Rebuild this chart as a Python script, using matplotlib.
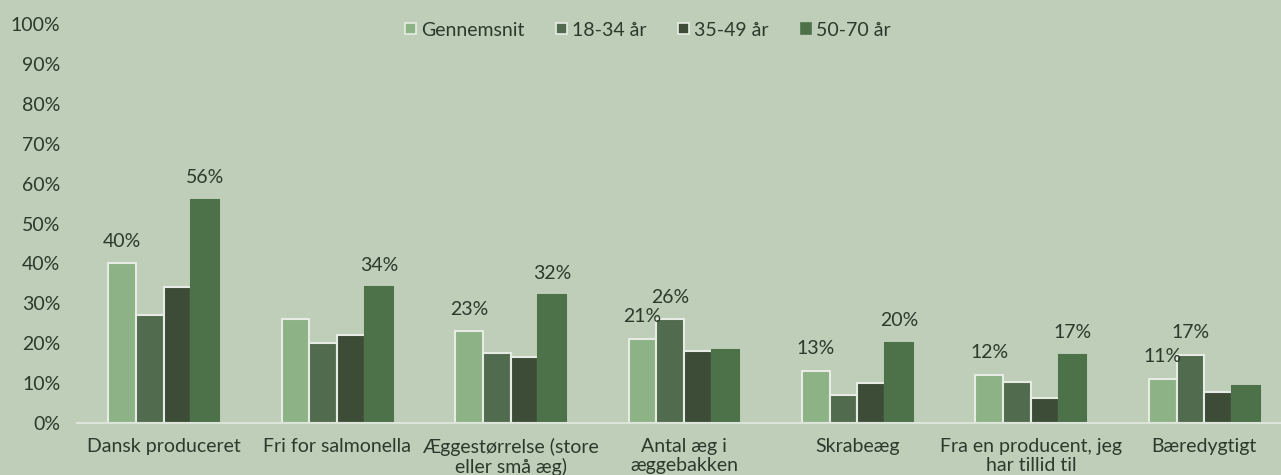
import matplotlib
matplotlib.use("Agg")
import matplotlib.pyplot as plt
import numpy as np
from matplotlib.patches import Patch

categories = ["Dansk produceret", "Fri for salmonella", "Æggestørrelse (store\neller små æg)",
              "Antal æg i\næggebakken", "Skrabeæg", "Fra en producent, jeg\nhar tillid til", "Bæredygtigt"]
series_names = ["Gennemsnit", "18-34 år", "35-49 år", "50-70 år"]
gennemsnit = [40, 26, 23, 21, 13, 12, 11]
aar_18_34 = [27, 20, 17.5, 26, 7, 10.2, 17]
aar_35_49 = [34, 22, 16.5, 18, 10, 6.3, 7.8]
aar_50_70 = [56, 34, 32, 18.4, 20, 17, 9.3]
labels_gennemsnit = ["40%", None, "23%", "21%", "13%", "12%", "11%"]
labels_18_34 = [None, None, None, "26%", None, None, "17%"]
labels_35_49 = [None] * 7
labels_50_70 = ["56%", "34%", "32%", None, "20%", "17%", None]
yticks = [0, 10, 20, 30, 40, 50, 60, 70, 80, 90, 100]

series = [gennemsnit, aar_18_34, aar_35_49, aar_50_70]
series_labels = [labels_gennemsnit, labels_18_34, labels_35_49, labels_50_70]
colors = ["#8DB286", "#516B4E", "#3C4C37", "#4D724A"]
edges = ["#E6ECE3", "#E6ECE3", "#E6ECE3", "#4D724A"]
bg = "#BFCEB9"
txt = "#2B3A2B"
fs = 14

plt.rcParams['font.family'] = ['Lato', 'DejaVu Sans']

fig = plt.figure(figsize=(12.81, 4.75), dpi=100, facecolor=bg)
ax = fig.add_axes([77/1281, 52/475, 1214/1281, 399/475])
ax.set_facecolor(bg)

x = np.arange(len(categories))
w = 0.16
for i, (vals, lbls) in enumerate(zip(series, series_labels)):
    pos = x + (i - 1.5) * w
    ax.bar(pos, vals, width=w, color=colors[i], edgecolor=edges[i], linewidth=1.5,
           label=series_names[i], zorder=2)
    for p, v, l in zip(pos, vals, lbls):
        if l:
            ax.annotate(l, (p, v), xytext=(0, 16), textcoords="offset points",
                        ha="center", va="center", fontsize=fs, color=txt)

ax.set_xlim(-0.5, len(categories) - 0.5)
ax.set_ylim(0, 100)
ax.set_yticks(yticks)
ax.set_yticklabels([f"{t}%" for t in yticks], fontsize=fs, color=txt)
ax.set_xticks(x)
ax.set_xticklabels(categories, fontsize=fs, color=txt, linespacing=1.1)
ax.tick_params(axis="both", length=0)
ax.tick_params(axis="y", pad=12)
ax.tick_params(axis="x", pad=11)
for s in ["top", "right", "left"]:
    ax.spines[s].set_visible(False)
ax.spines["bottom"].set_color("#DDE4DA")
ax.spines["bottom"].set_linewidth(1.5)

handles = [Patch(facecolor=colors[i], edgecolor=edges[i], linewidth=1.2) for i in range(4)]
fig.legend(handles, series_names, loc="center", bbox_to_anchor=(648/1281, 1 - 30/475),
           ncol=4, frameon=False, fontsize=fs, labelcolor=txt, handlelength=0.55,
           handleheight=0.55, handletextpad=0.25, columnspacing=1.65)

fig.savefig("out.png", dpi=100, facecolor=bg)
